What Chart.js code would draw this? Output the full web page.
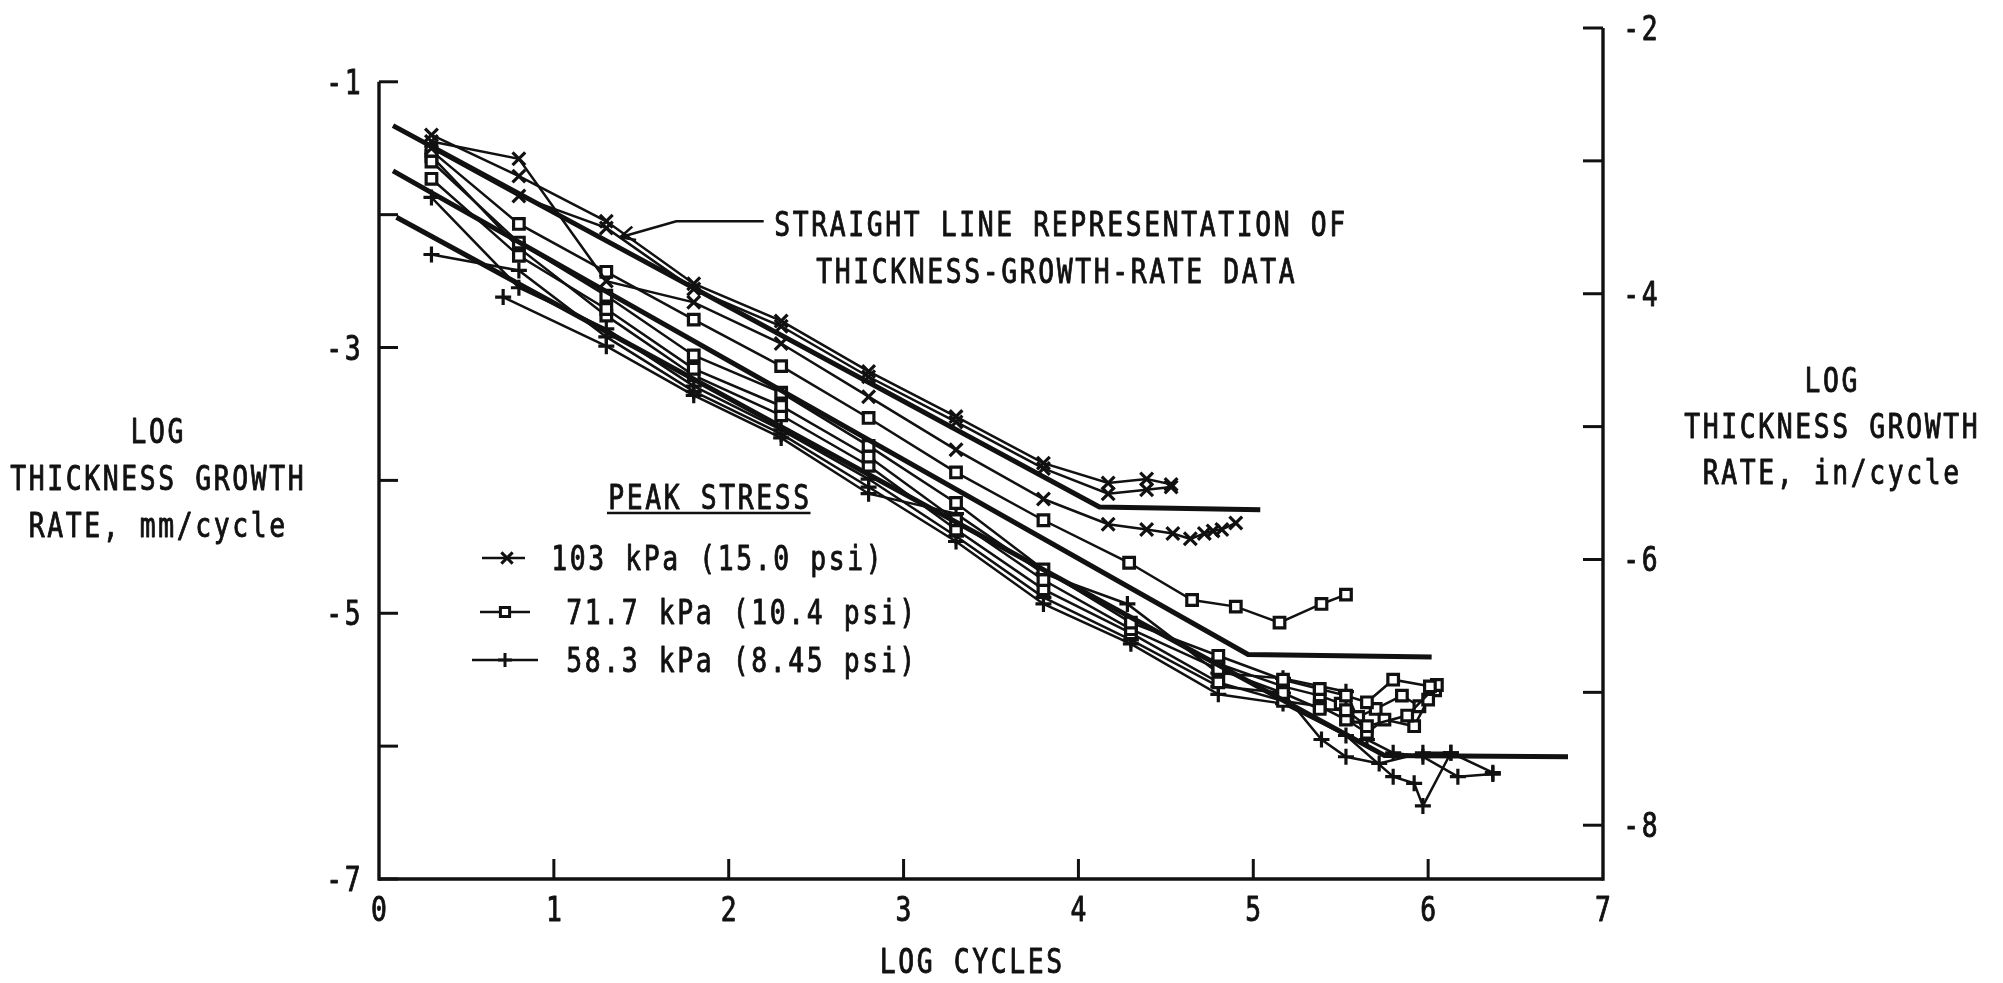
<!DOCTYPE html>
<html>
<head>
<meta charset="utf-8">
<title>Thickness growth rate vs log cycles</title>
<script src="https://cdn.jsdelivr.net/npm/chart.js@4.4.0/dist/chart.umd.min.js"></script>
<style>
  html, body { margin: 0; padding: 0; background: #fff; }
  #wrap { position: relative; width: 2003px; height: 983px; }
</style>
</head>
<body>
<div id="wrap"><canvas id="rate-chart"></canvas></div>
<script>
const LOG_MM_PER_IN = Math.log10(25.4);

const X_TICKS = [0, 1, 2, 3, 4, 5, 6, 7];
const MM_TICKS = [-1, -2, -3, -4, -5, -6, -7];
const IN_TICKS = [-2, -3, -4, -5, -6, -7, -8];

// straight-line representation, one per peak stress
const FIT_103 = [[0.08, -1.33], [4.12, -4.20], [5.04, -4.22]];
const FIT_717 = [[0.08, -1.67], [4.97, -5.31], [6.02, -5.33]];
const FIT_583 = [[0.10, -2.02], [5.75, -6.07], [6.80, -6.08]];

// 103 kPa (15.0 psi) runs
const RUN_103_A = [[0.3, -1.40], [0.8, -1.71], [1.3, -2.05], [1.8, -2.52], [2.3, -2.80], [2.8, -3.18], [3.3, -3.52], [3.8, -3.87], [4.17, -4.02], [4.39, -3.99], [4.53, -4.03]];
const RUN_103_B = [[0.3, -1.50], [0.8, -1.86], [1.3, -2.10], [1.8, -2.56], [2.3, -2.84], [2.8, -3.22], [3.3, -3.56], [3.8, -3.91], [4.17, -4.10], [4.39, -4.07], [4.53, -4.05]];
const RUN_103_C = [[0.3, -1.45], [0.8, -1.58], [1.3, -2.50], [1.8, -2.66], [2.3, -2.97], [2.8, -3.37], [3.3, -3.77], [3.8, -4.14], [4.17, -4.33], [4.39, -4.37], [4.54, -4.40], [4.64, -4.44], [4.72, -4.40], [4.77, -4.38], [4.82, -4.37], [4.90, -4.32]];

// 71.7 kPa (10.4 psi) runs
const RUN_717_A = [[0.3, -1.52], [0.8, -2.07], [1.3, -2.43], [1.8, -2.79], [2.3, -3.14], [2.8, -3.53], [3.3, -3.94], [3.8, -4.30], [4.29, -4.62], [4.65, -4.90], [4.90, -4.95], [5.15, -5.07], [5.39, -4.93], [5.53, -4.86]];
const RUN_717_B = [[0.3, -1.60], [0.8, -2.21], [1.3, -2.61], [1.8, -3.06], [2.3, -3.34], [2.8, -3.74], [3.3, -4.17], [3.8, -4.67], [4.3, -5.07], [4.8, -5.32], [5.17, -5.50], [5.38, -5.57], [5.53, -5.62], [5.65, -5.67], [5.80, -5.50], [6.01, -5.55]];
const RUN_717_C = [[0.3, -1.73], [0.8, -2.31], [1.3, -2.71], [1.8, -3.16], [2.3, -3.44], [2.8, -3.82], [3.3, -4.30], [3.8, -4.75], [4.3, -5.12], [4.8, -5.42], [5.17, -5.60], [5.38, -5.72], [5.53, -5.73], [5.65, -5.85], [5.88, -5.77], [6.05, -5.54]];
const RUN_717_D = [[0.3, -1.56], [0.8, -2.25], [1.3, -2.76], [1.8, -3.21], [2.3, -3.51], [2.8, -3.89], [3.3, -4.37], [3.8, -4.82], [4.3, -5.15], [4.8, -5.52], [5.17, -5.66], [5.38, -5.70], [5.53, -5.80], [5.65, -5.90], [5.75, -5.80], [5.92, -5.85], [6.00, -5.65]];
const RUN_717_E = [[4.8, -5.38], [5.17, -5.55], [5.38, -5.62], [5.50, -5.68], [5.60, -5.78], [5.70, -5.72], [5.85, -5.62], [5.95, -5.70], [6.04, -5.58]];

// 58.3 kPa (8.45 psi) runs
const RUN_583_A = [[0.3, -1.87], [0.8, -2.55], [1.3, -2.86], [1.8, -3.29], [2.3, -3.62], [2.8, -3.99], [3.3, -4.42], [3.8, -4.88], [4.3, -5.20], [4.8, -5.55], [5.17, -5.60], [5.39, -5.95], [5.53, -6.08], [5.72, -6.13], [5.97, -6.05], [6.13, -6.05], [6.37, -6.20]];
const RUN_583_B = [[0.3, -2.30], [0.8, -2.42], [1.3, -2.92], [1.8, -3.33], [2.3, -3.65], [2.8, -4.05], [3.3, -4.46], [3.8, -4.93], [4.3, -5.23], [4.8, -5.61], [5.17, -5.68], [5.53, -5.92], [5.80, -6.23], [5.92, -6.28], [5.97, -6.45], [6.13, -6.05]];
const RUN_583_C = [[0.71, -2.62], [1.3, -2.99], [1.8, -3.36], [2.3, -3.68], [2.8, -4.10], [3.3, -4.25], [3.8, -4.70], [4.28, -4.93], [4.8, -5.45], [5.17, -5.49], [5.53, -5.59], [5.65, -5.95], [5.80, -6.05], [5.97, -6.08], [6.17, -6.23], [6.37, -6.21]];

// leader from the note to the upper fit line
const LEADER = [[2.20, -2.05], [1.70, -2.05], [1.38, -2.17]];

const INK = '#111';
const MARK = {
  '103': { pointStyle: 'crossRot', radius: 9 },
  '717': { pointStyle: 'rect', radius: 7.5 },
  '583': { pointStyle: 'cross', radius: 8 },
};

const pts = arr => arr.map(([x, y]) => ({ x, y }));

function fitSet(arr) {
  return {
    data: pts(arr), showLine: true, borderColor: INK, borderWidth: 5,
    pointRadius: 0, yAxisID: 'y', order: 1,
  };
}

function runSet(arr, key) {
  const m = MARK[key];
  return {
    data: pts(arr), showLine: true, borderColor: INK, borderWidth: 2.5,
    pointStyle: m.pointStyle, pointRadius: m.radius, pointBorderWidth: 3.2,
    pointBorderColor: INK, pointBackgroundColor: '#fff', yAxisID: 'y', order: 2,
  };
}

// monospaced plotter-style lettering, squeezed glyphs on a fixed pitch
const FONT = '33px "DejaVu Sans Mono", "Liberation Mono", monospace';
const PITCH = 18.5;
const SQUEEZE = 0.8;
const CAP = 24;

function letter(ctx, text, x, cy, align) {
  const w = text.length * PITCH;
  let left = x;
  if (align === 'center') left = x - w / 2;
  else if (align === 'right') left = x - w;
  ctx.save();
  ctx.font = FONT;
  ctx.fillStyle = INK;
  ctx.strokeStyle = INK;
  ctx.lineWidth = 0.9;
  ctx.lineJoin = 'round';
  ctx.textAlign = 'center';
  ctx.textBaseline = 'alphabetic';
  for (let i = 0; i < text.length; i++) {
    const ch = text[i];
    if (ch === ' ') continue;
    ctx.save();
    ctx.translate(left + i * PITCH + PITCH / 2, cy + CAP / 2);
    ctx.scale(SQUEEZE, 1);
    ctx.fillText(ch, 0, 0);
    ctx.strokeText(ch, 0, 0);
    ctx.restore();
  }
  ctx.restore();
  return { left, right: left + w };
}

function seg(ctx, x1, y1, x2, y2) {
  ctx.beginPath();
  ctx.moveTo(x1, y1);
  ctx.lineTo(x2, y2);
  ctx.stroke();
}

const frame = {
  id: 'frame',
  afterDraw(chart) {
    const { ctx, chartArea: a } = chart;
    const sx = chart.scales.x, sy = chart.scales.y, s2 = chart.scales.y2;
    const TICK = 20;
    ctx.save();
    ctx.strokeStyle = INK;
    ctx.lineCap = 'butt';

    // axis lines
    ctx.lineWidth = 3.4;
    seg(ctx, sx.getPixelForValue(0), a.bottom, sx.getPixelForValue(7), a.bottom);
    seg(ctx, a.left, sy.getPixelForValue(-1), a.left, a.bottom + 1.7);
    seg(ctx, a.right, s2.getPixelForValue(-2), a.right, a.bottom + 1.7);

    // inward ticks and labels
    ctx.lineWidth = 3;
    X_TICKS.forEach(v => {
      const px = sx.getPixelForValue(v);
      if (v > 0 && v < 7) seg(ctx, px, a.bottom, px, a.bottom - TICK);
      letter(ctx, String(v), px, a.bottom + 30, 'center');
    });
    MM_TICKS.forEach(v => {
      const py = sy.getPixelForValue(v);
      seg(ctx, a.left, py, a.left + TICK - 1, py);
      if (v % 2 !== 0) letter(ctx, String(v), a.left - 17, py, 'right');
    });
    IN_TICKS.forEach(v => {
      const py = s2.getPixelForValue(v);
      seg(ctx, a.right, py, a.right - TICK, py);
      if (v % 2 === 0) letter(ctx, String(v), a.right + 19, py, 'left');
    });

    // axis titles
    letter(ctx, 'LOG CYCLES', (a.left + a.right) / 2 - 20, 961, 'center');
    ['LOG', 'THICKNESS GROWTH', 'RATE, mm/cycle'].forEach((t, i) =>
      letter(ctx, t, 157, 431 + i * 47, 'center'));
    ['LOG', 'THICKNESS GROWTH', 'RATE, in/cycle'].forEach((t, i) =>
      letter(ctx, t, 1831, 380 + i * 46, 'center'));

    // note and its leader
    letter(ctx, 'STRAIGHT LINE REPRESENTATION OF', 773, 224, 'left');
    letter(ctx, 'THICKNESS-GROWTH-RATE DATA', 815, 271, 'left');
    ctx.lineWidth = 2.6;
    const lp = LEADER.map(([x, y]) => [sx.getPixelForValue(x), sy.getPixelForValue(y)]);
    ctx.beginPath();
    ctx.moveTo(lp[0][0], lp[0][1]);
    lp.slice(1).forEach(p => ctx.lineTo(p[0], p[1]));
    ctx.stroke();
    const tip = lp[lp.length - 1], prev = lp[lp.length - 2];
    const ang = Math.atan2(prev[1] - tip[1], prev[0] - tip[0]);
    [-0.45, 0.45].forEach(d => seg(ctx, tip[0], tip[1],
      tip[0] + 16 * Math.cos(ang + d), tip[1] + 16 * Math.sin(ang + d)));

    // key
    const head = letter(ctx, 'PEAK STRESS', 607, 497, 'left');
    ctx.lineWidth = 2.4;
    seg(ctx, head.left, 513, head.right, 513);
    const rows = [
      { key: '103', text: '103 kPa (15.0 psi)', x0: 482, x1: 525, mx: 507, y: 558, tx: 550 },
      { key: '717', text: '71.7 kPa (10.4 psi)', x0: 480, x1: 530, mx: 505, y: 612, tx: 565 },
      { key: '583', text: '58.3 kPa (8.45 psi)', x0: 472, x1: 538, mx: 505, y: 660, tx: 565 },
    ];
    rows.forEach(r => {
      ctx.lineWidth = 2.5;
      seg(ctx, r.x0, r.y, r.x1, r.y);
      ctx.fillStyle = '#fff';
      ctx.lineWidth = 3;
      Chart.helpers.drawPoint(ctx, { pointStyle: MARK[r.key].pointStyle, radius: MARK[r.key].radius - 1, rotation: 0, borderWidth: 3 }, r.mx, r.y);
      letter(ctx, r.text, r.tx, r.y, 'left');
    });
    ctx.restore();
  }
};

const plain = { display: false };

new Chart(document.getElementById('rate-chart'), {
  type: 'scatter',
  data: {
    datasets: [
      fitSet(FIT_103), fitSet(FIT_717), fitSet(FIT_583),
      runSet(RUN_103_A, '103'), runSet(RUN_103_B, '103'), runSet(RUN_103_C, '103'),
      runSet(RUN_717_A, '717'), runSet(RUN_717_B, '717'), runSet(RUN_717_C, '717'), runSet(RUN_717_D, '717'), runSet(RUN_717_E, '717'),
      runSet(RUN_583_A, '583'), runSet(RUN_583_B, '583'), runSet(RUN_583_C, '583'),
    ]
  },
  options: {
    responsive: true,
    maintainAspectRatio: false,
    animation: false,
    devicePixelRatio: 1,
    layout: { padding: { top: 28, left: 0, right: 0, bottom: 0 } },
    plugins: { legend: { display: false }, tooltip: { enabled: false } },
    scales: {
      x: {
        type: 'linear', min: 0, max: 7,
        afterBuildTicks: s => { s.ticks = X_TICKS.map(v => ({ value: v })); },
        afterFit: s => { s.height = 104; },
        ticks: plain, grid: plain, border: plain,
      },
      y: {
        type: 'linear', position: 'left', min: -7, max: -2 + LOG_MM_PER_IN,
        afterBuildTicks: s => { s.ticks = MM_TICKS.map(v => ({ value: v })); },
        afterFit: s => { s.width = 379; },
        ticks: plain, grid: plain, border: plain,
      },
      y2: {
        type: 'linear', position: 'right', min: -7 - LOG_MM_PER_IN, max: -2,
        afterBuildTicks: s => { s.ticks = IN_TICKS.map(v => ({ value: v })); },
        afterFit: s => { s.width = 400; },
        ticks: plain, grid: plain, border: plain,
      },
    },
  },
  plugins: [frame],
});
</script>
</body>
</html>
